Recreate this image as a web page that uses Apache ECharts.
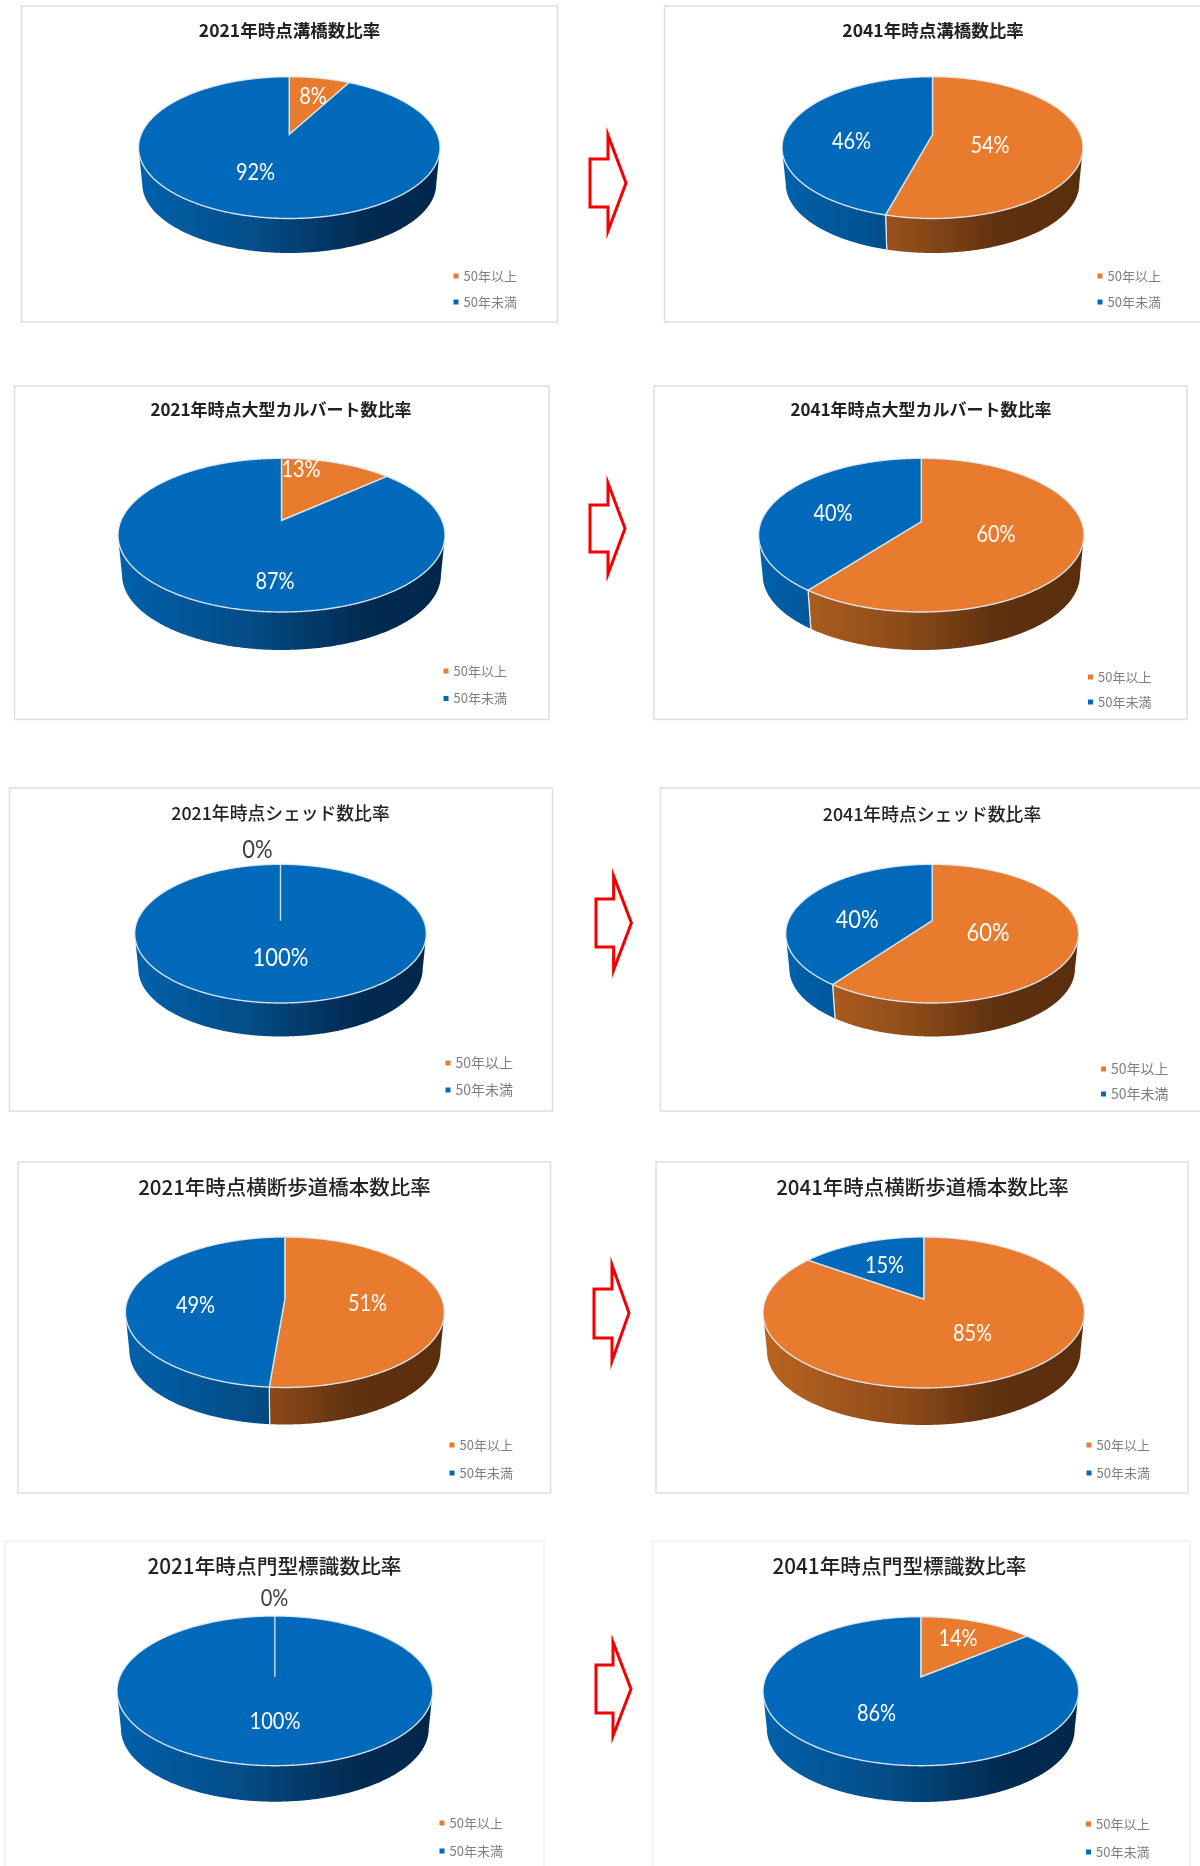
<!DOCTYPE html>
<html>
<head>
<meta charset="utf-8">
<style>
  html, body { margin: 0; padding: 0; background: #fff; }
  #main { width: 1200px; height: 1866px; filter: blur(0.5px); }
</style>
<script src="https://cdn.jsdelivr.net/npm/echarts@6/dist/echarts.min.js"></script>
</head>
<body>
<div id="main"></div>
<script>
  // データ (ラベルは四捨五入して表示)
  const chartTitles = [
    '2021年時点溝橋数比率', '2041年時点溝橋数比率',
    '2021年時点大型カルバート数比率', '2041年時点大型カルバート数比率',
    '2021年時点シェッド数比率', '2041年時点シェッド数比率',
    '2021年時点横断歩道橋本数比率', '2041年時点横断歩道橋本数比率',
    '2021年時点門型標識数比率', '2041年時点門型標識数比率'
  ]
  const legendNames = ['50年以上', '50年未満']
  const over50Shares = [7.8, 54.2, 13.3, 60.4, 0, 60, 51.3, 85, 0, 14]
  const under50Shares = [92.2, 45.8, 86.7, 39.6, 100, 40, 48.7, 15, 100, 86]

  // レイアウト
  const panels = [
    { box: [21.5, 6, 557.5, 322], pie: [138.5, 440, 76.7, 218.5, 253, 134.5], title: [289.5, 30, 17.5], labels: [[313, 97], [255.5, 172.5]], labelSize: 20, legend: [456, 276, 26, 13] },
    { box: [664.5, 6, 1210, 322], pie: [782, 1083, 76.7, 218.5, 253, 134.5], title: [933, 30, 17.5], labels: [[990, 146], [851.5, 141.5]], labelSize: 20, legend: [1100, 276, 26, 13] },
    { box: [14.5, 386, 549, 719.5], pie: [118, 445, 458.3, 612, 650, 520.5], title: [281, 410, 17], labels: [[301, 470], [275, 582]], labelSize: 20, legend: [446, 671, 27.5, 13] },
    { box: [654, 386, 1187, 719.5], pie: [758.6, 1084, 458.3, 612, 650, 521.5], title: [921, 410, 17], labels: [[996, 534.5], [833, 513.5]], labelSize: 20, legend: [1090.5, 677, 25, 13] },
    { box: [9.5, 788, 552.5, 1111], pie: [134.7, 426.3, 864.3, 1003, 1036.5, 920.7], title: [280.5, 813, 17.8], labels: [[257.5, 849.5], [280.5, 957.5]], labelSize: 22, legend: [448, 1063, 27, 14] },
    { box: [660.5, 788, 1210, 1111], pie: [785.7, 1078.6, 864.3, 1003, 1036.5, 920.7], title: [932, 814, 17.8], labels: [[988, 932.5], [857, 919.5]], labelSize: 22, legend: [1103.5, 1069, 25, 14] },
    { box: [18, 1162, 550.5, 1493], pie: [125.4, 444.4, 1237, 1387.5, 1424.5, 1298.5], title: [284.5, 1187, 20.5], labels: [[367.5, 1303.5], [195.5, 1306]], labelSize: 20, legend: [452, 1445, 28, 13] },
    { box: [656, 1162, 1188, 1493], pie: [763, 1084.5, 1237, 1388, 1425, 1299], title: [922.5, 1187, 20.5], labels: [[972.5, 1334], [884.5, 1266]], labelSize: 20, legend: [1089, 1445, 28, 13] },
    { box: [5, 1541, 544, 1880], pie: [117, 432.7, 1616, 1765.7, 1801.7, 1676.7], title: [274.5, 1566, 20.7], labels: [[274.5, 1598.5], [275, 1721.5]], labelSize: 20, legend: [442, 1823, 28, 13], border: '#eeeeee' },
    { box: [652.5, 1541, 1190, 1880], pie: [763, 1078.6, 1616.7, 1765.7, 1802, 1677], title: [899.5, 1566, 20.7], labels: [[958, 1638.5], [876.5, 1713.5]], labelSize: 20, legend: [1088.5, 1824, 28, 13], border: '#eeeeee' }
  ]
  const arrows = [
    [590, 626, 135, 231, 159, 207, 608],
    [590, 625, 483, 574, 505, 552, 608],
    [596, 631.4, 876, 970, 899, 947, 613.6],
    [594, 629, 1265, 1361, 1289, 1338, 612],
    [596, 631, 1642, 1736, 1665, 1713, 613]
  ]

  const topColors = ['#e97b2e', '#0069ba']
  const wallStops = [
    [[0, '#ba6520'], [0.45, '#8c4a19'], [0.72, '#5f310f'], [1, '#5a2d0d']],
    [[0, '#0061ab'], [0.4, '#044c86'], [0.75, '#022b52'], [1, '#01274b']]
  ]
  const cjkFont = '"Noto Sans CJK JP", "Noto Sans", sans-serif'
  const BOTTOM_SCALE = 0.975

  // 透視を掛けた円盤の写像 (angle: 上から時計回りの度)
  const makeProjector = (pie) => {
    const [left, right, top, front, bottom, apexY] = pie
    const rx = (right - left) / 2
    const ry = (front - top) / 2
    const cx = (left + right) / 2
    const cy = (front + top) / 2
    const p = (cy - apexY) / ry
    const s = rx * Math.sqrt(1 - p * p)
    const b = ry * (1 - p * p)
    const shift = bottom - cy - ry * BOTTOM_SCALE
    const project = (angle) => {
      const rad = angle * Math.PI / 180
      const u = Math.sin(rad)
      const v = Math.cos(rad)
      const w = 1 + p * v
      return [cx + s * u / w, apexY - b * v / w]
    }
    const drop = (pt) => [cx + (pt[0] - cx) * BOTTOM_SCALE, cy + (pt[1] - cy) * BOTTOM_SCALE + shift]
    return { cx, cy, apex: [cx, apexY], project, drop }
  }

  const renderSlice = (panel, sliceIndex, startShare, share) => () => {
    const proj = makeProjector(panel.pie)
    const startAngle = startShare * 3.6
    const sweep = share * 3.6
    const steps = Math.max(1, Math.ceil(sweep * 2))
    const rim = []
    for (let i = 0; i <= steps; i++) {
      rim.push(proj.project(startAngle + sweep * i / steps))
    }
    const children = []
    // 側面
    const frontRim = rim.filter((pt) => pt[1] >= proj.cy)
    if (frontRim.length > 1) {
      children.push({
        type: 'polygon',
        shape: { points: frontRim.concat(frontRim.map(proj.drop).reverse()) },
        style: {
          fill: {
            type: 'linear', global: true,
            x: panel.pie[0], y: 0, x2: panel.pie[1], y2: 0,
            colorStops: wallStops[sliceIndex].map((s) => ({ offset: s[0], color: s[1] }))
          },
          stroke: null
        }
      })
      // 側面の区切り線
      ;[rim[0], rim[rim.length - 1]].forEach((pt) => {
        if (pt[1] >= proj.cy) {
          children.push({
            type: 'polyline',
            shape: { points: [pt, proj.drop(pt)] },
            style: { stroke: 'rgba(255,255,255,0.8)', lineWidth: 1.2, fill: null }
          })
        }
      })
    }
    // 上面
    children.push({
      type: 'polygon',
      shape: { points: [proj.apex].concat(rim) },
      style: { fill: topColors[sliceIndex], stroke: 'rgba(225,236,245,0.9)', lineWidth: 1.4 },
      z2: 5
    })
    // ラベル (Calibri 風に縦長)
    const pos = panel.labels[sliceIndex]
    children.push({
      type: 'text',
      z2: 10,
      x: pos[0],
      y: pos[1],
      scaleY: 1.15,
      style: {
        x: 0, y: 0,
        text: Math.round(share) + '%',
        fill: share === 0 ? '#404040' : '#fff',
        font: panel.labelSize + 'px Lato, "Open Sans", sans-serif',
        align: 'center', verticalAlign: 'middle'
      }
    })
    return { type: 'group', children }
  }

  const series = []
  panels.forEach((panel, i) => {
    const shares = [over50Shares[i], under50Shares[i]]
    shares.forEach((share, k) => {
      series.push({
        type: 'custom',
        name: legendNames[k],
        coordinateSystem: 'none',
        silent: true,
        itemStyle: { color: topColors[k] },
        data: [[share]],
        renderItem: renderSlice(panel, k, k === 0 ? 0 : shares[0], share)
      })
    })
  })

  const boxGraphics = panels.map((panel) => ({
    type: 'rect',
    silent: true,
    shape: { x: panel.box[0], y: panel.box[1], width: panel.box[2] - panel.box[0], height: panel.box[3] - panel.box[1] },
    style: { fill: '#fff', stroke: panel.border || '#dedede', lineWidth: 1.5 }
  }))
  const arrowGraphics = arrows.map(([l, r, t, b, tt, tb, n]) => ({
    type: 'polygon',
    silent: true,
    shape: { points: [[l, tt], [n, tt], [n, t], [r, (t + b) / 2], [n, b], [n, tb], [l, tb]] },
    style: { fill: '#fff', stroke: '#f40000', lineWidth: 3 }
  }))

  const option = {
    animation: false,
    backgroundColor: '#fff',
    title: panels.map((panel, i) => ({
      text: chartTitles[i],
      left: panel.title[0],
      top: panel.title[1],
      textAlign: 'center',
      textVerticalAlign: 'middle',
      padding: 0,
      textStyle: { fontFamily: cjkFont, fontSize: panel.title[2], fontWeight: i < 4 ? 'bold' : 500, color: '#222' }
    })),
    legend: panels.map((panel) => ({
      left: panel.legend[0] - 2.5,
      top: panel.legend[1] - 7,
      padding: 0,
      orient: 'vertical',
      icon: 'rect',
      itemWidth: 5,
      itemHeight: 5,
      itemGap: panel.legend[2] - 14,
      selectedMode: false,
      data: legendNames,
      textStyle: { fontFamily: cjkFont, fontSize: panel.legend[3], lineHeight: 14, color: '#7f7f7f' }
    })),
    graphic: { elements: boxGraphics.concat(arrowGraphics) },
    series
  }

  const chart = echarts.init(document.getElementById('main'), null, { renderer: 'canvas' })
  chart.setOption(option)
</script>
</body>
</html>
